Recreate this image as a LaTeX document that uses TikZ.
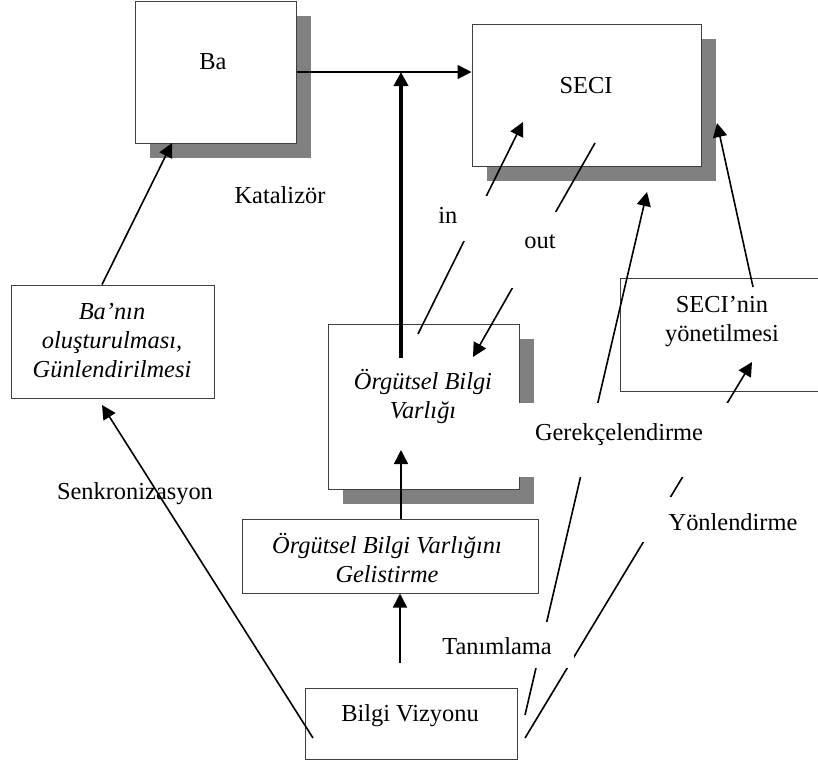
\documentclass[tikz,border=0pt]{standalone}
\usepackage{fontspec}
\setmainfont{Liberation Serif}
\usetikzlibrary{arrows.meta,fit,shadows}
\newcommand\diafont{\fontsize{12.2pt}{14.5pt}\selectfont}

\begin{document}
\begin{tikzpicture}[x=0.5pt, y=-0.5pt,
    box/.style={draw=black!75, line width=0.5pt, fill=white, inner sep=0pt},
    shadowed/.style={drop shadow={shadow xshift=7.5pt, shadow yshift=-7.5pt,
                     fill=black!50, opacity=1}},
    txt/.style={align=center, inner sep=0pt, font=\diafont},
    itx/.style={txt, font=\diafont\itshape},
    lbl/.style={fill=white, inner sep=0pt, anchor=base, align=center, font=\diafont},
    flow/.style={-{Triangle[length=7pt, width=7pt]}, line width=0.8pt},
    thickflow/.style={flow, line width=2pt}]
  \useasboundingbox (0,0) rectangle (818,762);
  \node[box, shadowed, fit={(135,1) (296,143)}] (ba) {};
  \node[box, shadowed, fit={(472,24) (701,166)}] (seci) {};
  \node[box, shadowed, fit={(328,324) (519,489)}] (obv) {};
  \node[box, fit={(242,519) (538,593)}] (gel) {};
  \node[box, fit={(305,688) (517,759)}] (vizyon) {};
  \node[box, fit={(11,285) (214,398)}] (banin) {};
  \node[box, fit={(620,278) (824,391)}] (secinin) {};
  \node[txt] (batxt) at (213,62) {Ba};
  \node[txt] (secitxt) at (586,86) {SECI};
  \node[itx] (obvtxt) at (423,396) {Örgütsel Bilgi\\Varlığı};
  \node[itx] (geltxt) at (387,558) {Örgütsel Bilgi Varlığını\\Gelistirme};
  \node[txt] (vizyontxt) at (410,716) {Bilgi Vizyonu};
  \node[itx] (banintxt) at (112,341) {Ba’nın\\oluşturulması,\\Günlendirilmesi};
  \node[txt] (secinintxt) at (722,322) {SECI’nin\\yönetilmesi};
  \node[txt, anchor=base] (katalizor) at (280,203) {Katalizör};
  \node[txt, anchor=base] (senk) at (135,499) {Senkronizasyon};
  \coordinate (obvup) at (401,358);
  \coordinate (obvlow) at (401,450);
  \coordinate (vizup) at (400,663);
  \coordinate (inA) at (418,334);
  \coordinate (inB) at (523,122);
  \coordinate (outA) at (595,143);
  \coordinate (outB) at (473,357);
  \coordinate (vizL) at (313,738);
  \coordinate (baninlow) at (102,405);
  \coordinate (baup) at (172,143);
  \coordinate (vizR1) at (525,715);
  \coordinate (vizR2) at (525,738);
  \coordinate (seciS) at (647,192);
  \coordinate (secininlow) at (752,362);
  \coordinate (secininup) at (753,287);
  \coordinate (seciE) at (717,123);
  \draw[flow] (ba.east) -- (ba.east -| seci.west);
  \draw[thickflow] (obvup) -- (obvup |- ba.east);
  \draw[flow] (obvup |- gel.north) -- (obvlow);
  \draw[flow] (vizup) -- (vizup |- gel.south);
  \draw[flow] (inA) -- (inB);
  \draw[flow] (outA) -- (outB);
  \draw[flow] (vizR1) -- (seciS);
  \draw[flow] (vizR2) -- (secininlow);
  \draw[flow] (vizL) -- (baninlow);
  \draw[flow] (baninlow |- banin.north) -- (baup);
  \draw[flow] (secininup) -- (seciE);
  \node[lbl, anchor=base west, align=left, text width=26pt,
        text height=13.5pt, text depth=9pt] (inlbl) at (438,223) {in};
  \node[lbl, text width=29pt, text height=18pt, text depth=20pt] (outlbl) at (540,248) {out};
  \node[lbl, text width=111pt, text height=18.5pt, text depth=18.5pt] (gerek) at (619,440) {Gerekçelendirme};
  \node[lbl, text width=95pt, text height=16.5pt, text depth=6pt] (yonl) at (733,530) {Yönlendirme};
  \node[lbl, text width=77pt, text height=16pt, text depth=7pt] (tanim) at (497,654) {Tanımlama};
\end{tikzpicture}
\end{document}
